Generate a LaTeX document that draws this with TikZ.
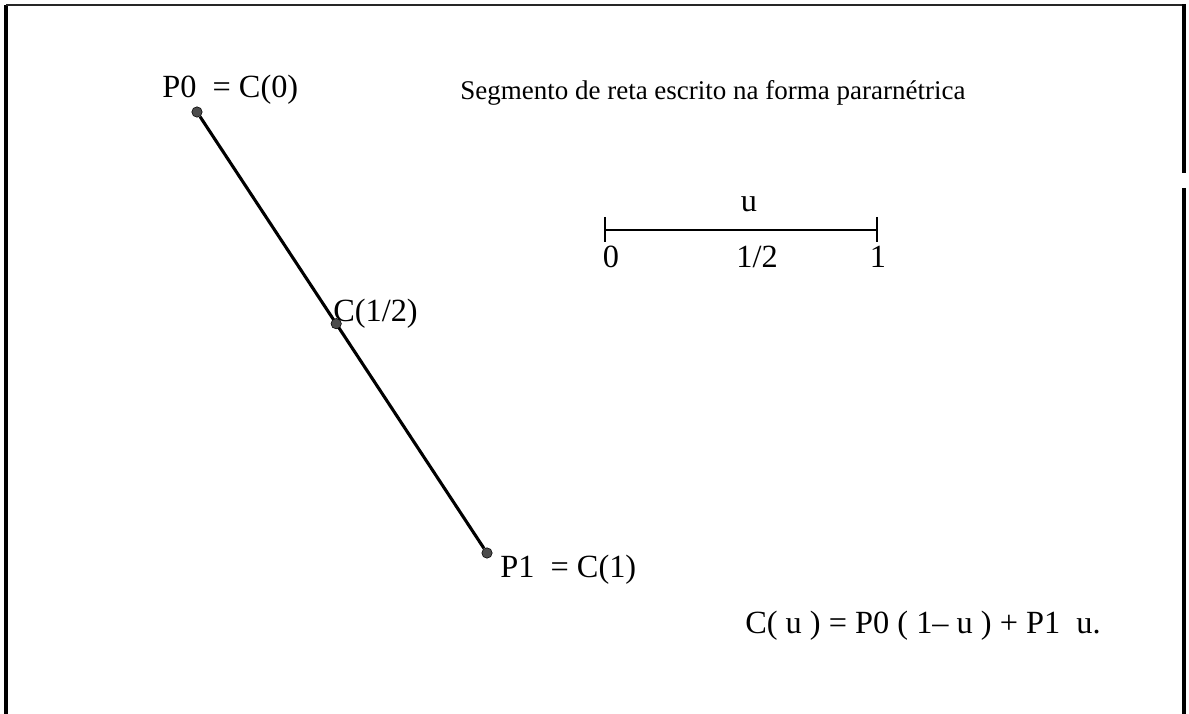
\documentclass[tikz,border=0pt]{standalone}
\usepackage{fontspec}
\setmainfont{Liberation Serif}
\usepackage{tikz}
\usetikzlibrary{positioning, calc}
\tikzset{
  ptdot/.style={
    circle, draw=black, fill=black!70, inner sep=0pt,
    minimum size=0.26cm
  },
  lbl/.style={
    font=\fontsize{23}{27}\selectfont, inner sep=0pt, anchor=base west
  },
  seg/.style={
    line width=2.2pt, black
  },
  frameline/.style={
    line width=2.4pt, black
  },
}

\begin{document}
\begin{tikzpicture}[x=0.025cm, y=-0.025cm]
  \useasboundingbox (0,0) rectangle (1189,714);

  % Frame
  \draw[frameline] (6,714) -- (6,5);
  \draw[frameline, line width=1.6pt, black!85] (6,5) -- (1184,5);
  \draw[frameline] (1184,4) -- (1184,173);
  \draw[frameline] (1184,188) -- (1184,714);

  % Points of the segment
  \node[ptdot] (P0) at (197,112) {};
  \node[ptdot] (P1) at (487,553) {};
  \draw[seg] (P0) -- (P1);
  \node[ptdot] (Cm) at ($(P0)!0.48!(P1)$) {};

  % Point labels
  \node[lbl] (lP0) at (162,98) {P0~~= C(0)};
  \node[lbl] (lCm) at (333,322) {C(1/2)};
  \node[lbl] (lP1) at (500,577) {P1~~= C(1)};

  % Title
  \node[lbl, font=\fontsize{19.2}{23}\selectfont] (title) at (460,100)
    {Segmento de reta escrito na forma pararnétrica};

  % Parameter axis
  \coordinate (a0) at (605,230);
  \coordinate (a1) at (877,230);
  \draw[line width=1.6pt] (a0) -- (a1);
  \draw[line width=1.2pt] ([yshift=0.33cm]a0) -- ([yshift=-0.3cm]a0);
  \draw[line width=1.2pt] ([yshift=0.33cm]a1) -- ([yshift=-0.3cm]a1);
  \node[lbl, anchor=base] (u) at (749,212) {u};
  \node[lbl, anchor=base] (t0) at (611,268) {0};
  \node[lbl, anchor=base] (th) at (757,268) {1/2};
  \node[lbl, anchor=base] (t1) at (878,268) {1};

  % Equation
  \node[lbl] (eq) at (745,633) {C( u ) = P0 ( 1– u ) + P1~~u.};
\end{tikzpicture}
\end{document}
